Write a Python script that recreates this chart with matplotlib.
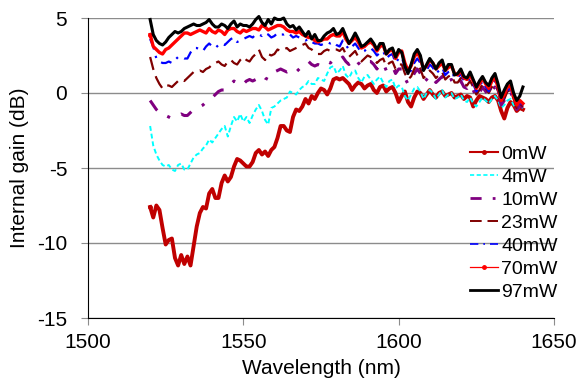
import numpy as np
from matplotlib import pyplot as plt

plt.rcParams['font.family'] = ['Liberation Sans', 'DejaVu Sans']
plt.rcParams['axes.unicode_minus'] = False

# wavelength grid (nm), one reading per nm
wavelength = np.arange(1520, 1641)

gain_0mw = [
    -7.6, -8.3, -7.5, -7.8, -9.0, -10.1, -9.8, -9.7, -11.0, -11.5,
    -10.8, -11.4, -10.9, -11.5, -10.2, -8.9, -8.0, -7.6, -7.7, -6.7,
    -6.4, -7.0, -7.0, -6.0, -5.5, -5.9, -5.6, -4.9, -4.4, -4.5,
    -4.7, -4.9, -4.9, -4.6, -4.0, -3.8, -4.1, -3.9, -4.2, -3.8,
    -3.6, -3.0, -2.2, -2.2, -2.5, -2.6, -1.6, -1.1, -1.2, -0.9,
    -0.4, -0.7, -0.2, -0.4, 0.0, 0.3, 0.2, -0.1, 0.3, 0.9,
    1.0, 0.9, 1.0, 0.8, 0.6, 0.2, 0.5, 0.7, 0.6, 0.3,
    0.5, 0.6, 0.2, 0.0, 0.4, 0.5, 0.1, 0.3, 0.4, 0.0,
    -0.6, -0.2, 0.1, -0.6, -0.9, -0.3, 0.1, 0.0, -0.4, -0.1,
    0.2, -0.1, -0.3, 0.0, 0.1, -0.2, -0.1, 0.0, -0.3, -0.2,
    -0.1, -0.4, -0.2, -0.3, -0.9, -0.5, -0.2, -0.3, -0.4, -0.6,
    -0.3, -0.2, -0.5, -1.2, -1.7, -1.0, -0.6, -0.8, -1.2, -1.0,
    -1.1]
gain_4mw = [
    -2.2, -3.5, -4.1, -4.5, -4.8, -4.9, -4.8, -5.1, -5.2, -4.8,
    -4.7, -5.1, -5.1, -4.7, -4.3, -4.1, -4.0, -3.7, -3.5, -3.1,
    -3.3, -3.0, -2.7, -2.4, -2.2, -2.9, -2.2, -1.6, -1.9, -1.4,
    -1.9, -1.6, -2.0, -1.5, -1.1, -0.8, -1.2, -1.8, -2.1, -1.0,
    -0.9, -0.7, -0.5, -0.4, -0.3, 0.1, 0.0, -0.1, 0.2, 0.4,
    0.5, 0.8, 0.6, 0.6, 1.0, 0.9, 0.8, 1.3, 1.7, 1.8,
    1.3, 1.5, 1.8, 1.2, 1.0, 1.4, 1.5, 1.0, 0.7, 1.1,
    1.2, 0.9, 0.6, 0.9, 1.1, 0.7, 0.4, 0.8, 0.9, 0.3,
    0.5, 0.4, -0.2, -0.5, -0.1, 0.3, 0.4, 0.1, -0.4, 0.0,
    0.2, 0.0, -0.4, -0.1, 0.2, -0.3, -0.1, 0.0, -0.4, -0.3,
    -0.1, -0.5, -0.6, -0.3, -0.7, -0.9, -0.6, -0.3, -0.5, -0.7,
    -0.4, -0.2, -0.5, -1.0, -0.8, -0.5, -0.4, -0.8, -1.1, -0.9,
    -1.0]
gain_10mw = [
    -0.5, -0.8, -1.1, -1.3, -1.5, -1.5, -1.6, -1.7, -1.6, -1.5,
    -1.4, -1.5, -1.5, -1.3, -1.1, -1.0, -0.9, -0.8, -0.6, -0.4,
    -0.3, -0.1, 0.1, 0.2, 0.2, 0.4, 0.6, 0.8, 0.6, 0.5,
    0.6, 0.8, 0.9, 0.8, 0.9, 1.1, 1.2, 1.0, 0.9, 1.2,
    1.4, 1.5, 1.6, 1.5, 1.4, 1.5, 1.6, 1.4, 1.6, 1.8,
    2.0, 2.1, 1.9, 1.8, 1.9, 1.8, 2.0, 2.1, 2.0, 2.2,
    2.3, 2.2, 2.4, 2.1, 1.9, 2.1, 2.3, 2.0, 1.8, 1.9,
    2.1, 2.1, 1.9, 1.6, 1.9, 2.0, 1.5, 1.7, 1.8, 1.3,
    1.6, 1.6, 1.0, 0.6, 0.8, 1.3, 1.6, 1.3, 0.7, 0.9,
    1.2, 1.0, 0.7, 0.9, 1.1, 0.6, 0.8, 0.9, 0.5, 0.5,
    0.8, 0.4, 0.3, 0.6, 0.2, -0.3, 0.0, 0.4, 0.1, -0.2,
    0.2, 0.4, 0.0, -0.8, -0.5, 0.0, 0.1, -0.5, -1.1, -0.8,
    -1.0]
gain_23mw = [
    2.4, 1.6, 1.0, 0.6, 0.3, 0.5, 0.5, 0.4, 0.6, 0.8,
    0.9, 0.8, 1.0, 1.2, 1.4, 1.4, 1.5, 1.4, 1.6, 1.7,
    1.9, 2.0, 2.1, 1.9, 1.8, 2.1, 2.2, 2.0, 1.9, 2.2,
    2.4, 2.2, 2.1, 2.4, 2.6, 2.9, 2.4, 2.2, 2.6, 2.5,
    2.6, 2.9, 2.8, 2.9, 3.0, 2.8, 2.9, 3.0, 3.1, 3.2,
    3.3, 3.0, 2.9, 2.7, 2.6, 2.6, 2.8, 2.9, 2.8, 2.9,
    2.9, 2.8, 3.0, 2.6, 2.4, 2.6, 2.8, 2.4, 2.1, 2.3,
    2.5, 2.4, 2.3, 2.0, 2.2, 2.3, 1.8, 2.0, 2.1, 1.6,
    1.9, 1.9, 1.3, 0.9, 1.1, 1.6, 1.9, 1.6, 1.0, 1.2,
    1.5, 1.3, 1.0, 1.2, 1.4, 0.9, 1.1, 1.2, 0.7, 0.7,
    1.0, 0.6, 0.5, 0.8, 0.4, -0.1, 0.2, 0.6, 0.3, 0.0,
    0.4, 0.6, 0.1, -0.7, -0.4, 0.1, 0.2, -0.4, -1.0, -0.7,
    -0.9]
gain_40mw = [
    3.6, 3.1, 2.3, 2.1, 2.0, 2.0, 2.1, 2.0, 2.2, 2.4,
    2.4, 2.3, 2.3, 2.7, 3.0, 3.0, 2.9, 2.8, 3.1, 3.3,
    3.1, 3.0, 3.2, 3.3, 3.2, 3.4, 3.6, 3.7, 3.4, 3.5,
    3.6, 3.7, 3.8, 3.7, 3.9, 3.9, 3.8, 4.0, 3.9, 3.7,
    3.8, 4.0, 3.9, 3.9, 4.0, 3.9, 3.7, 3.8, 3.7, 3.6,
    3.5, 3.6, 3.4, 3.3, 3.3, 3.2, 3.3, 3.4, 3.3, 3.4,
    3.2, 3.1, 3.5, 3.2, 2.9, 3.1, 3.3, 3.0, 2.7, 2.8,
    3.0, 3.0, 2.8, 2.5, 2.7, 2.8, 2.3, 2.5, 2.6, 2.0,
    2.3, 2.4, 1.7, 1.3, 1.5, 2.0, 2.3, 2.0, 1.4, 1.5,
    1.9, 1.7, 1.3, 1.5, 1.7, 1.2, 1.4, 1.5, 1.0, 1.0,
    1.3, 0.8, 0.7, 1.0, 0.6, 0.1, 0.4, 0.8, 0.4, 0.1,
    0.6, 0.8, 0.2, -0.6, -0.3, 0.2, 0.3, -0.3, -0.9, -0.6,
    -0.8]
gain_70mw = [
    3.9, 3.1, 2.9, 2.7, 2.6, 2.9, 3.0, 3.2, 3.4, 3.6,
    3.8, 4.0, 4.0, 3.9, 4.0, 4.1, 4.2, 4.1, 4.0, 4.3,
    4.1, 4.0, 4.2, 4.1, 3.9, 4.2, 4.3, 4.3, 4.1, 4.0,
    4.2, 4.1, 4.2, 4.3, 4.3, 4.2, 4.5, 4.4, 4.2, 4.3,
    4.4, 4.5, 4.5, 4.4, 4.2, 4.1, 4.1, 4.0, 4.1, 3.9,
    3.8, 3.7, 3.7, 3.5, 3.4, 3.5, 3.6, 3.6, 3.8, 3.9,
    3.8, 3.8, 4.1, 3.6, 3.3, 3.5, 3.7, 3.4, 3.0, 3.1,
    3.3, 3.4, 3.2, 2.8, 3.1, 3.2, 2.6, 2.8, 2.9, 2.3,
    2.7, 2.8, 2.0, 1.5, 1.8, 2.4, 2.7, 2.3, 1.6, 1.8,
    2.2, 2.0, 1.6, 1.8, 2.0, 1.5, 1.7, 1.8, 1.3, 1.2,
    1.5, 1.0, 0.9, 1.2, 0.8, 0.3, 0.6, 1.0, 0.6, 0.3,
    0.8, 1.0, 0.4, -0.5, -0.1, 0.4, 0.5, -0.2, -0.8, -0.5,
    -0.7]
gain_97mw = [
    4.9, 3.9, 3.5, 3.3, 3.2, 3.4, 3.7, 3.9, 4.1, 4.0,
    4.1, 4.3, 4.4, 4.5, 4.6, 4.5, 4.5, 4.6, 4.7, 4.9,
    4.6, 4.4, 4.4, 4.6, 4.5, 4.3, 4.6, 4.8, 4.4, 4.6,
    4.5, 4.5, 4.4, 4.6, 4.9, 5.1, 4.7, 4.5, 4.9, 4.6,
    5.0, 4.9, 4.9, 5.0, 4.6, 4.4, 4.5, 4.2, 4.4, 4.1,
    3.8, 4.1, 3.6, 3.9, 3.5, 3.5, 3.8, 4.0, 4.1, 4.3,
    3.9, 4.0, 4.3, 3.8, 3.3, 3.6, 4.0, 3.6, 3.1, 3.2,
    3.4, 3.6, 3.3, 2.9, 3.3, 3.3, 2.6, 2.9, 3.0, 2.4,
    2.9, 2.7, 1.8, 1.3, 1.9, 2.6, 2.9, 2.5, 1.5, 1.9,
    2.3, 2.0, 1.6, 2.0, 2.2, 1.5, 1.9, 1.9, 1.2, 1.3,
    1.6, 1.1, 1.0, 1.4, 0.9, 0.4, 0.8, 1.1, 0.7, 0.5,
    1.0, 1.3, 0.6, -0.3, 0.2, 0.6, 0.8, 0.0, -0.5, -0.2,
    0.4]

fig = plt.figure(figsize=(5.82, 3.85), dpi=100)
ax = fig.add_axes([88 / 582, 1 - 318 / 385, 466 / 582, 300 / 385])

ax.plot(wavelength, gain_0mw, color='#C00000', lw=2.8, marker='o', ms=2.5,
        markevery=500, label='0mW', clip_on=False)
ax.plot(wavelength, gain_4mw, color='#00FFFF', lw=1.4, dashes=(2.5, 1.5),
        label='4mW', clip_on=False)
ax.plot(wavelength, gain_10mw, color='#800080', lw=2.2, dashes=(4, 4, 1, 4),
        label='10mW', clip_on=False)
ax.plot(wavelength, gain_23mw, color='#800000', lw=1.6, dashes=(6, 3),
        label='23mW', clip_on=False)
ax.plot(wavelength, gain_40mw, color='#0000FF', lw=1.6, dashes=(5, 3, 1, 3),
        label='40mW', clip_on=False)
ax.plot(wavelength, gain_70mw, color='#FF0000', lw=2.4, marker='o', ms=2.5,
        markevery=500, label='70mW', clip_on=False)
ax.plot(wavelength, gain_97mw, color='black', lw=2.2, label='97mW',
        clip_on=False)

ax.set_xlim(1500, 1650)
ax.set_ylim(-15, 5)
ax.set_xticks([1500, 1550, 1600, 1650])
ax.set_yticks([-15, -10, -5, 0, 5])
ax.yaxis.grid(True, color='#8c8c8c', lw=1)
ax.set_axisbelow(True)
for s in ['top', 'right']:
    ax.spines[s].set_visible(False)
ax.tick_params(axis='both', labelsize=15, color='#8c8c8c', length=5)
ax.tick_params(axis='x', pad=6)
ax.tick_params(axis='y', pad=10)

ax.set_xlabel('Wavelength (nm)', fontsize=15, labelpad=5)
ax.set_ylabel('Internal gain (dB)', fontsize=15, labelpad=6)

leg = fig.legend(loc='upper left', bbox_to_anchor=(470 / 582, 1 - 145 / 385),
                 frameon=False, fontsize=14, handlelength=1.45,
                 handletextpad=0.15, labelspacing=0.28, borderpad=0,
                 borderaxespad=0)
# legend keys are drawn thinner than the traces
for line, w in zip(leg.get_lines(), [1.5, 1.2, 2.0, 1.4, 1.2, 0.9, 2.0]):
    line.set_linewidth(w)

plt.savefig('out.png', dpi=100)
